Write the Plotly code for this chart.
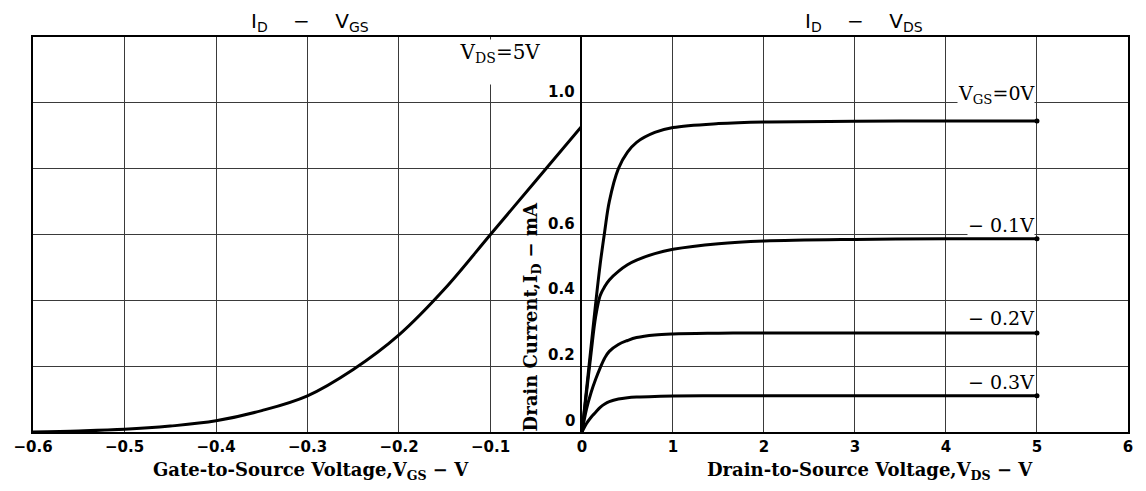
import plotly.graph_objects as go

# ---------------- data ----------------
# I_D - V_GS  (V_DS = 5 V)
vgs = [-0.6, -0.55, -0.5, -0.45, -0.4, -0.35, -0.3, -0.25, -0.2, -0.15, -0.1, -0.05, 0.0]
id_vs_vgs = [0.0, 0.003, 0.008, 0.018, 0.034, 0.065, 0.11, 0.19, 0.295, 0.435, 0.60, 0.765, 0.93]

# I_D - V_DS
vds = [0, 0.05, 0.1, 0.15, 0.2, 0.25, 0.3, 0.4, 0.5, 0.6, 0.8, 1.0, 1.5, 2.0, 3.0, 4.0, 5.0]
id_vgs_0 = [0, 0.13, 0.26, 0.39, 0.51, 0.61, 0.70, 0.80, 0.85, 0.88, 0.91, 0.925, 0.937, 0.942, 0.944, 0.945, 0.945]
id_vgs_m01 = [0, 0.12, 0.24, 0.35, 0.415, 0.442, 0.462, 0.488, 0.508, 0.522, 0.542, 0.555, 0.572, 0.58, 0.585, 0.587, 0.587]
id_vgs_m02 = [0, 0.07, 0.12, 0.16, 0.195, 0.225, 0.245, 0.266, 0.278, 0.287, 0.295, 0.298, 0.300, 0.301, 0.301, 0.301, 0.301]
id_vgs_m03 = [0, 0.026, 0.045, 0.06, 0.075, 0.085, 0.092, 0.1, 0.104, 0.106, 0.108, 0.109, 0.11, 0.11, 0.11, 0.11, 0.11]
vds_series = [id_vgs_0, id_vgs_m01, id_vgs_m02, id_vgs_m03]
vds_labels = ["V<sub>GS</sub>=0V", "\u2212 0.1V", "\u2212 0.2V", "\u2212 0.3V"]
label_pos = [(4.55, 1.024), (4.6, 0.629), (4.6, 0.347), (4.6, 0.152)]

left_ticks = [-0.6, -0.5, -0.4, -0.3, -0.2, -0.1]
left_ticktext = ["\u22120.6", "\u22120.5", "\u22120.4", "\u22120.3", "\u22120.2", "\u22120.1"]
right_ticks = [0, 1, 2, 3, 4, 5, 6]
y_ticks = [0, 0.2, 0.4, 0.6, 1.0]
y_ticktext = ["0", "0.2", "0.4", "0.6", "1.0"]

# ---------------- styles ----------------
SERIF = "DejaVu Serif"
SANS = "DejaVu Sans"
LINE = dict(color="black", width=3)
GRID = "#3a3a3a"
TICKFONT = dict(family=SANS, size=15, color="black", weight="bold")

fig = go.Figure()

fig.add_trace(go.Scatter(x=vgs, y=id_vs_vgs, mode="lines", line=dict(LINE, shape="spline", smoothing=1.0),
                         xaxis="x", yaxis="y", showlegend=False, hoverinfo="skip"))

for ser in vds_series:
    fig.add_trace(go.Scatter(x=vds, y=ser, mode="lines", line=dict(LINE, shape="spline", smoothing=1.0),
                             xaxis="x2", yaxis="y2", showlegend=False, hoverinfo="skip"))
    fig.add_trace(go.Scatter(x=[vds[-1]], y=[ser[-1]], mode="markers",
                             marker=dict(color="black", size=5),
                             xaxis="x2", yaxis="y2", showlegend=False, hoverinfo="skip"))

split = 553 / 1103
grid_common = dict(showgrid=True, gridcolor=GRID, gridwidth=1, zeroline=False,
                   showline=True, linecolor="black", linewidth=2, ticks="")

fig.update_layout(
    width=1130, height=475,
    margin=dict(l=22, r=5, t=29, b=51),
    paper_bgcolor="white", plot_bgcolor="white",
    xaxis=dict(grid_common, mirror=True, domain=[0, split], range=[-0.6, 0], tickvals=left_ticks,
               ticktext=left_ticktext, tickfont=TICKFONT, anchor="y"),
    xaxis2=dict(grid_common, mirror=True, domain=[split, 1], range=[0, 6], tickvals=right_ticks,
                tickfont=TICKFONT, anchor="y2"),
    yaxis=dict(grid_common, mirror=False, range=[0, 1.2], dtick=0.2, showticklabels=False, anchor="x"),
    yaxis2=dict(grid_common, mirror=True, range=[0, 1.2], dtick=0.2, showticklabels=False, anchor="x2"),
)

ann = []
sp = "\u00a0" * 4
title_txt = "I<sub>D</sub>" + sp + "\u2212" + sp + "V<sub>{}</sub>"
ann.append(dict(text=title_txt.format("GS"), xref="x", yref="paper", x=-0.297, y=1,
                yanchor="bottom", yshift=0, showarrow=False, font=dict(family=SANS, size=20, color="black")))
ann.append(dict(text=title_txt.format("DS"), xref="x2", yref="paper", x=3.1, y=1,
                yanchor="bottom", yshift=0, showarrow=False, font=dict(family=SANS, size=20, color="black")))
# axis titles
ann.append(dict(text="<b>Gate-to-Source Voltage,V<sub>GS</sub> \u2212 V</b>", xref="x", yref="y", x=-0.296, y=0,
                yanchor="top", yshift=-25, showarrow=False, font=dict(family=SERIF, size=18, color="black")))
ann.append(dict(text="<b>Drain-to-Source Voltage,V<sub>DS</sub> \u2212 V</b>", xref="x2", yref="y2", x=3.17, y=0,
                yanchor="top", yshift=-25, showarrow=False, font=dict(family=SERIF, size=18, color="black")))
ann.append(dict(text="<b>Drain Current,I<sub>D</sub> \u2212 mA</b>", xref="x", yref="y", x=-0.055, y=0.35,
                textangle=-90, showarrow=False, font=dict(family=SERIF, size=18, color="black")))
# y tick labels
for v, t in zip(y_ticks, y_ticktext):
    ann.append(dict(text=t, xref="x", yref="y", x=0, y=v, xanchor="right", yanchor="bottom",
                    xshift=-5, yshift=0, showarrow=False, font=TICKFONT))
# condition label
ann.append(dict(text="V<sub>DS</sub>=5V", xref="x", yref="y", x=-0.09, y=1.2, yanchor="top", yshift=-2,
                height=44, width=104, valign="top", borderpad=0, bgcolor="white", showarrow=False,
                font=dict(family=SERIF, size=20, color="black")))
# curve labels
for (lx, ly), t in zip(label_pos, vds_labels):
    ann.append(dict(text=t, xref="x2", yref="y2", x=lx, y=ly, showarrow=False, bgcolor="white", borderpad=0,
                    font=dict(family=SERIF, size=19, color="black")))

fig.update_layout(annotations=ann)
fig.write_html("out.html")
